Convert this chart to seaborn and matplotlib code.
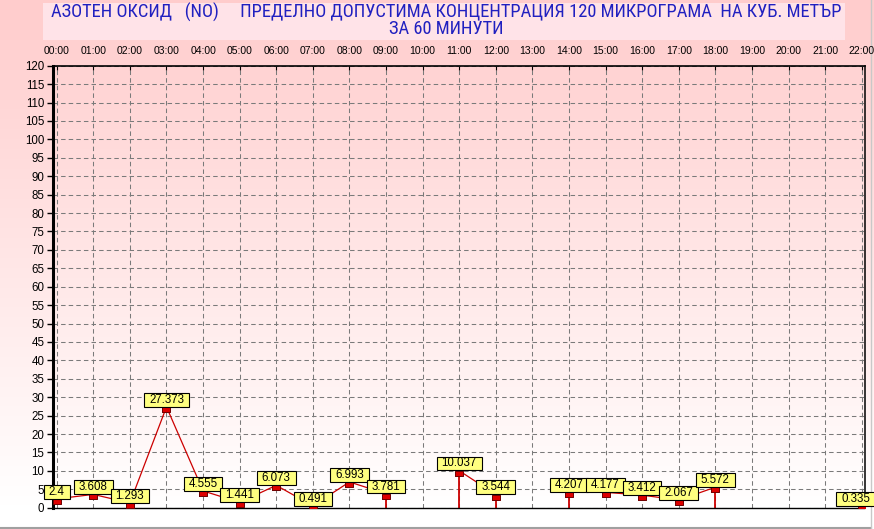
import numpy as np
import pandas as pd
import matplotlib
matplotlib.use('Agg')
import matplotlib.pyplot as plt
from matplotlib import font_manager
from matplotlib.font_manager import FontProperties
from matplotlib.path import Path
from matplotlib.patches import Rectangle
import seaborn as sns

# data
hours = list(range(23))
hour_labels = [f'{h:02d}:00' for h in hours]
no_values = [2.4, 3.608, 1.293, 27.373, 4.555, 1.441, 6.073, 0.491, 6.993, 3.781, np.nan,
             10.037, 3.544, np.nan, 4.207, 4.177, 3.412, 2.067, 5.572, np.nan, np.nan, np.nan, 0.335]
y_ticks = list(range(0, 121, 5))
title_line1 = 'АЗОТЕН ОКСИД   (NO)     ПРЕДЕЛНО ДОПУСТИМА КОНЦЕНТРАЦИЯ 120 МИКРОГРАМА  НА КУБ. МЕТЪР'
title_line2 = 'ЗА 60 МИНУТИ'

df = pd.DataFrame({'hour': hours, 'value': no_values})
df['seg'] = df['value'].isna().cumsum()   # a new line piece after every gap
valid = df.dropna()

prev_gap = df['value'].shift(1).isna() & (df.index > 0)
next_gap = df['value'].shift(-1).isna() & (df.index < len(df) - 1)
drops = df[df['value'].notna() & (prev_gap | next_gap)]

plt.rcParams['font.family'] = ['Liberation Sans', 'DejaVu Sans']

# look for a narrow / condensed sans for the title (the original uses a narrow face)
narrow_file = None
for f in font_manager.fontManager.ttflist:
    nm = f.name + ' ' + f.fname
    is_narrow = ('Narrow' in nm or 'Condensed' in nm or
                 str(f.stretch) in ('condensed', 'semi-condensed', 'extra-condensed'))
    if is_narrow and f.style == 'normal' and f.weight in (400, 'normal', 'regular') \
            and 'Mono' not in nm and 'Serif' not in nm:
        narrow_file = f.fname
        if 'Liberation' in nm or 'Noto' in nm:
            break
if narrow_file:
    title_prop = FontProperties(fname=narrow_file)
else:
    title_prop = FontProperties(family=['Liberation Sans'])

W, H = 874, 529
fig = plt.figure(figsize=(W / 100, H / 100), dpi=100)

# pink -> white background
bg = fig.add_axes([0, 0, 1, 1], zorder=-10)
rows = np.arange(H)
t = np.clip(rows / 505.0, 0, 1)
g = 0.80 + 0.20 * t
img = np.stack([np.ones_like(g), g, g], axis=1)[:, None, :]
bg.imshow(img, aspect='auto', extent=[0, 1, 0, 1], origin='upper')
bg.add_patch(Rectangle((43 / W, 1 - 40 / H), (845 - 43) / W, 37 / H,
                       facecolor='#FFE3E8', edgecolor='none'))
bg.plot([0, 871 / W], [1.5 / H, 1.5 / H], color='#A0A0A0', lw=1.5)
bg.plot([871 / W, 871 / W], [1.5 / H, 1], color='#C8C8C8', lw=1)
bg.set_xlim(0, 1)
bg.set_ylim(0, 1)
bg.axis('off')

ax = fig.add_axes([52.7 / W, 1 - 507.7 / H, (865 - 52.7) / W, (507.7 - 65.7) / H])
ax.patch.set_alpha(0)

mark = [(-1, -1.1), (1, -1.1), (1, 0), (-1, 0), (-1, -1.1)]
sns.lineplot(data=valid, x='hour', y='value', units='seg', estimator=None,
             color='#CC0000', lw=0.9, marker=mark, markersize=6.6,
             markerfacecolor='#DD0000', markeredgecolor='#700000', markeredgewidth=0.7,
             legend=False, ax=ax, zorder=3)
ax.vlines(drops['hour'], 0, drops['value'], color='#CC0000', lw=1.3, zorder=2)


def wide_box(x0, y0, width, height, mutation_size):
    px = 0.42 * mutation_size
    py = 0.08 * mutation_size
    return Path([(x0 - px, y0 - py), (x0 + width + px, y0 - py),
                 (x0 + width + px, y0 + height + py), (x0 - px, y0 + height + py),
                 (x0 - px, y0 - py)], closed=True)


last = valid['hour'].max()
for h, v in zip(valid['hour'], valid['value']):
    dx = -4.3 if h == last else 0
    ax.annotate(f'{v:g}', xy=(h, v), xytext=(dx, 0.9), textcoords='offset points',
                ha='center', va='bottom', fontsize=8.3, color='black', zorder=6,
                annotation_clip=False,
                bbox=dict(boxstyle=wide_box, facecolor='#FFFF80', edgecolor='black', lw=0.8))

ax.set_xlim(-0.11, 22.09)
ax.set_ylim(0, 120)
ax.set_xticks(hours, hour_labels)
ax.set_yticks(y_ticks)
ax.xaxis.tick_top()
ax.tick_params(axis='x', direction='in', length=3, width=0.8, labelsize=7.5, pad=7)
ax.tick_params(axis='y', direction='out', length=4, width=1, labelsize=8.3, pad=2)
ax.set_xlabel('')
ax.set_ylabel('')
ax.set_axisbelow(True)
ax.grid(True, color='#7A7A7A', lw=0.75, ls=(0, (4.3, 3)))

ax.spines['left'].set_linewidth(2.2)
ax.spines['top'].set_linewidth(1.2)
ax.spines['right'].set_linewidth(1.1)
ax.spines['bottom'].set_linewidth(1)
ax.spines['bottom'].set_linestyle((0, (2, 1)))
for s in ax.spines.values():
    s.set_color('black')

# two-line title, sized so the first line spans about the same width as in the reference
title_prop.set_size(13)
probe = fig.text(0, 0, title_line1, fontproperties=title_prop)
fig.canvas.draw()
w1 = probe.get_window_extent().width
probe.remove()
title_prop.set_size(min(13.5, 13 * 793 / w1))
fig.text(446 / W, 1 - 20.5 / H, title_line1 + '\n' + title_line2, ha='center', va='center',
         multialignment='center', linespacing=0.85, color='#2020C0',
         fontproperties=title_prop)

fig.savefig('out.png', dpi=100)
